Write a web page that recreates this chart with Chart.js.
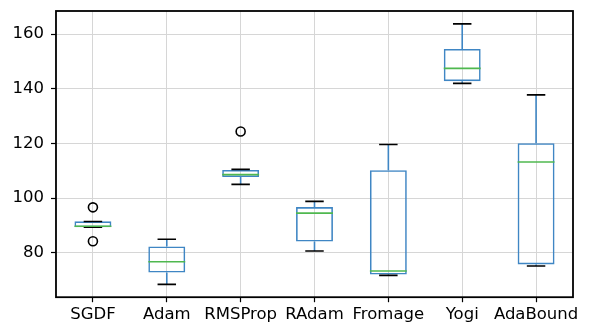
<!DOCTYPE html>
<html>
<head>
<meta charset="utf-8">
<script src="https://cdn.jsdelivr.net/npm/chart.js@4"></script>
<style>
html,body{margin:0;padding:0;background:#fff;}
#wrap{width:590px;height:335px;}
</style>
</head>
<body>
<div id="wrap"><canvas id="c" width="590" height="335"></canvas></div>
<script>
const categories = ['SGDF','Adam','RMSProp','RAdam','Fromage','Yogi','AdaBound'];
const whiskerLow  = [89.3, 68.4, 105.0, 80.6, 71.7, 142.0, 75.1];
const q1          = [89.3, 72.7, 107.7, 84.1, 72.0, 142.8, 75.7];
const medians     = [89.7, 76.7, 108.6, 94.5, 73.3, 147.5, 113.2];
const q3          = [91.5, 82.3, 110.3, 96.7, 110.2, 154.6, 120.1];
const whiskerHigh = [91.4, 84.9, 110.5, 98.8, 119.6, 163.8, 137.8];
const outlierCats = ['SGDF','SGDF','RMSProp'];
const outlierVals = [96.6, 84.2, 124.4];
const yTicks = [80, 100, 120, 140, 160];
const yMin = 63.7, yMax = 168.5;

const BLUE = '#3f86c4';
const GREEN = '#4fb84f';
const FONT = {family: "'DejaVu Sans'", size: 16.5};

const boxPlugin = {
  id: 'boxExtras',
  afterDatasetsDraw(chart) {
    const ctx = chart.ctx;
    const xs = chart.scales.x, ys = chart.scales.y;
    const meta = chart.getDatasetMeta(0);
    ctx.save();
    categories.forEach((c, i) => {
      const bar = meta.data[i];
      const cx = xs.getPixelForValue(i);
      const half = bar.width / 2;
      const capHalf = half / 2;
      ctx.strokeStyle = BLUE; ctx.lineWidth = 1.6;
      ctx.beginPath();
      ctx.moveTo(cx, ys.getPixelForValue(q3[i])); ctx.lineTo(cx, ys.getPixelForValue(whiskerHigh[i]));
      ctx.moveTo(cx, ys.getPixelForValue(q1[i])); ctx.lineTo(cx, ys.getPixelForValue(whiskerLow[i]));
      ctx.stroke();
      ctx.strokeStyle = '#000'; ctx.lineWidth = 1.6;
      ctx.beginPath();
      [whiskerHigh[i], whiskerLow[i]].forEach(v => {
        const py = ys.getPixelForValue(v);
        ctx.moveTo(cx - capHalf, py); ctx.lineTo(cx + capHalf, py);
      });
      ctx.stroke();
      ctx.strokeStyle = GREEN; ctx.lineWidth = 1.6;
      ctx.beginPath();
      const my = ys.getPixelForValue(medians[i]);
      ctx.moveTo(cx - half, my); ctx.lineTo(cx + half, my);
      ctx.stroke();
    });
    const a = chart.chartArea;
    ctx.strokeStyle = '#000'; ctx.lineWidth = 1.8;
    ctx.strokeRect(a.left, a.top, a.right - a.left, a.bottom - a.top);
    ctx.restore();
  }
};

new Chart(document.getElementById('c'), {
  data: {
    labels: categories,
    datasets: [
      {
        type: 'bar',
        data: categories.map((c, i) => [q1[i], q3[i]]),
        backgroundColor: 'rgba(0,0,0,0)',
        borderColor: BLUE,
        borderWidth: 1.6,
        borderSkipped: false,
        barPercentage: 0.5,
        categoryPercentage: 1.0,
        order: 2
      },
      {
        type: 'line',
        data: outlierCats.map((c, i) => ({x: c, y: outlierVals[i]})),
        showLine: false,
        pointStyle: 'circle',
        pointRadius: 4.5,
        pointBorderWidth: 1.6,
        pointBorderColor: '#000',
        pointBackgroundColor: 'rgba(0,0,0,0)',
        order: 1
      }
    ]
  },
  options: {
    responsive: false,
    animation: false,
    layout: {padding: {left: 5.5, top: 11, right: 17, bottom: 7}},
    plugins: {legend: {display: false}, tooltip: {enabled: false}},
    scales: {
      x: {
        type: 'category',
        offset: true,
        afterFit(scale) { scale.paddingLeft = 0; scale.paddingRight = 0; },
        grid: {offset: false, color: '#d6d6d6', lineWidth: 1, tickColor: '#000', tickLength: 5, tickWidth: 1.2},
        border: {display: false},
        ticks: {color: '#000', font: FONT, padding: 3, maxRotation: 0, autoSkip: false}
      },
      y: {
        type: 'linear',
        min: yMin, max: yMax,
        afterBuildTicks(scale) { scale.ticks = yTicks.map(v => ({value: v})); },
        afterFit(scale) { scale.paddingTop = 0; scale.paddingBottom = 0; },
        grid: {color: '#d6d6d6', lineWidth: 1, tickColor: '#000', tickLength: 5, tickWidth: 1.2},
        border: {display: false},
        ticks: {color: '#000', font: FONT, padding: 7}
      }
    }
  },
  plugins: [boxPlugin]
});
</script>
</body>
</html>
